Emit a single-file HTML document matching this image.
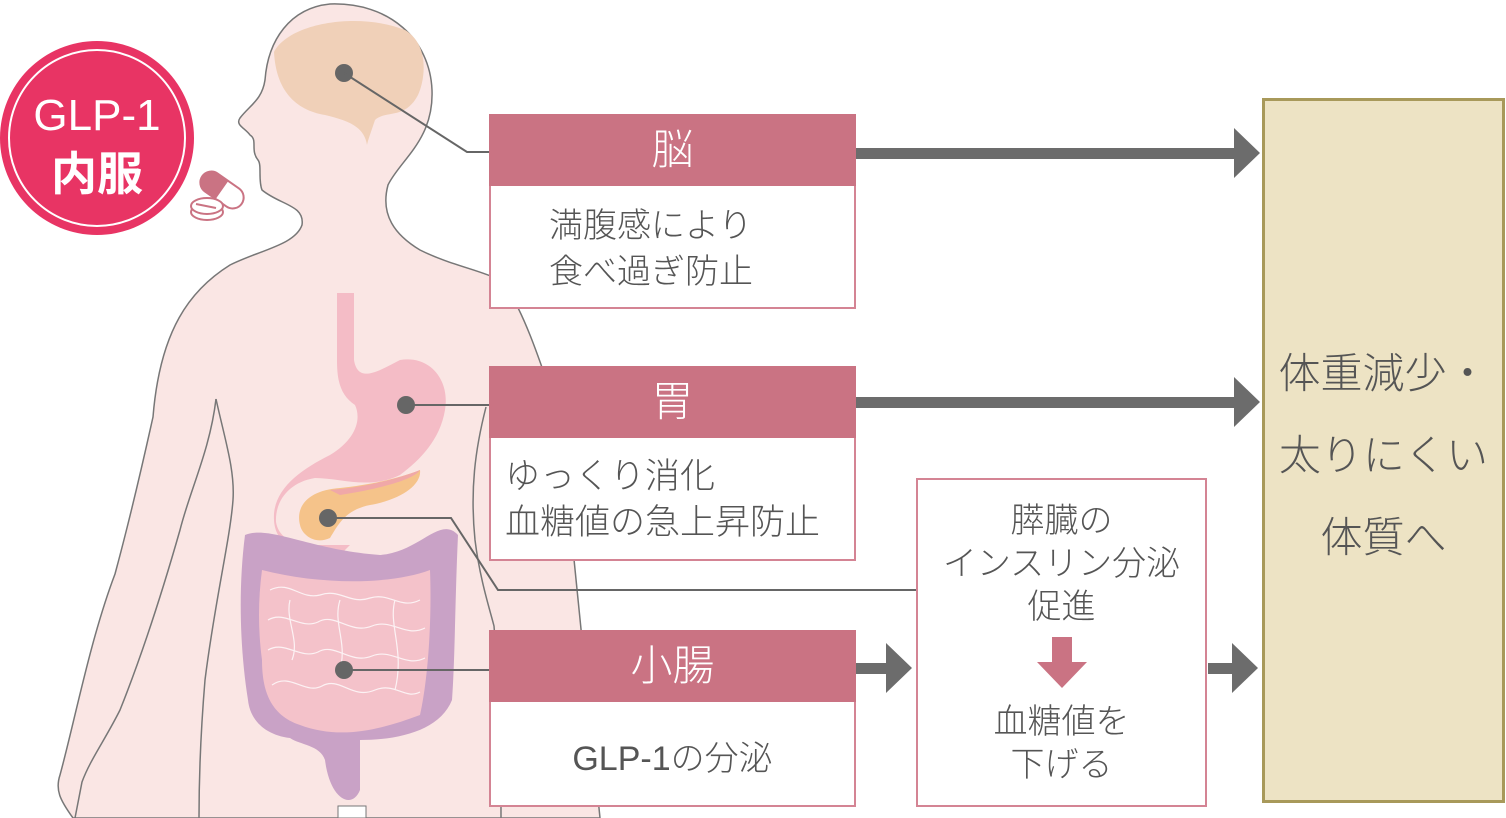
<!DOCTYPE html>
<html><head><meta charset="utf-8"><style>
body{margin:0;width:1506px;height:818px;background:#fff;overflow:hidden;position:relative;font-family:"Liberation Sans","Noto Sans CJK JP",sans-serif;}
.a{position:absolute;box-sizing:border-box}
.hd{background:#ca7383;color:#fff;font-size:42px;text-align:center;font-weight:300}
.bx{border:2px solid #d48494;border-top:none;background:#fff;color:#555;font-size:34px;line-height:46px;font-weight:300;white-space:nowrap}
.ar{background:#6c6c6c;height:11px}
.tri{width:0;height:0;border-top:25px solid transparent;border-bottom:25px solid transparent;border-left:26px solid #6c6c6c}
</style></head><body>
<svg class="a" style="left:0;top:0" width="1506" height="818">
<path d="M330,4 C390,2 430,40 432,90 C434,140 400,160 388,185 C380,215 395,235 420,250 C450,265 480,270 500,280 C520,300 540,360 560,420 L600,818 L73,818 C60,800 55,790 60,775 C75,720 90,640 115,574 C135,500 150,430 153,417 C160,330 190,290 230,265 C260,250 295,245 302,225 C305,205 280,205 262,190 C258,180 262,165 258,160 C250,150 258,140 250,135 C245,128 235,125 240,118 C250,105 262,100 265,80 C268,40 290,8 330,4 Z" fill="#fae6e4" stroke="#777" stroke-width="1.5"/>
<path d="M216,399 C225,440 235,470 233,500 C230,540 215,600 205,680 C200,740 199,780 199,818" fill="none" stroke="#777" stroke-width="1.5"/>
<path d="M216,399 C210,450 190,490 180,530 C160,600 140,660 120,710 C105,740 90,760 82,782 L75,818" fill="none" stroke="#777" stroke-width="1.5"/>
<path d="M486,407 C475,450 470,490 475,540 C480,580 490,610 494,626 C500,700 501,760 501,818" fill="none" stroke="#777" stroke-width="1.5"/>
<path d="M274,52 C290,22 360,12 405,30 C430,45 425,80 418,95 C405,120 385,110 375,120 C370,135 368,140 367,145 C364,125 345,120 325,115 C295,110 276,90 274,52 Z" fill="#f0d0b8"/>
<path d="M337,293 L354,293 L354,360 C358,385 380,370 400,360 C430,355 450,380 445,410 C440,440 420,460 400,475 C370,490 340,478 315,478 C290,482 275,500 276,522 C278,535 290,545 310,545 L350,545 L340,555 C300,560 275,545 274,520 C272,490 300,470 330,455 C355,440 362,420 355,405 C340,395 337,380 337,360 Z" fill="#f4bcc6"/>
<path d="M300,525 C295,505 310,490 340,488 C370,485 400,478 420,470 C422,485 400,500 370,505 C345,510 338,525 330,538 C315,545 302,535 300,525 Z" fill="#f5c38a"/>
<path d="M330,490 C360,488 395,480 420,470 C415,478 390,487 340,495 Z" fill="#f0a8a8"/>
<path d="M245,535 C270,525 310,550 380,555 C420,552 440,515 458,535 C455,600 455,660 452,700 C440,730 400,740 360,740 L360,790 C352,810 330,800 325,760 C320,745 300,745 290,738 C265,735 250,720 248,700 C240,650 238,590 245,535 Z" fill="#c9a2c6"/>
<path d="M262,570 C320,585 390,585 430,570 C432,620 428,680 420,715 C380,730 340,740 300,725 C270,715 262,690 262,660 C258,630 258,600 262,570 Z" fill="#f4c2ca"/>
<g fill="none" stroke="#fff" stroke-width="1.2" opacity="0.8">
<path d="M270,590 C290,580 300,600 320,595 C340,588 350,605 370,598 C390,592 400,610 420,600"/>
<path d="M268,620 C285,610 300,630 318,622 C335,612 350,635 372,626 C392,618 405,638 425,628"/>
<path d="M268,650 C285,640 300,660 318,652 C335,642 350,665 372,656 C392,648 405,668 425,658"/>
<path d="M272,685 C290,672 305,695 322,686 C340,676 352,700 375,690 C395,682 405,700 420,692"/>
<path d="M290,600 C285,620 300,640 292,660 M340,600 C332,625 350,645 338,675 M395,600 C388,625 405,650 395,690"/>
</g>
<circle cx="344" cy="73" r="9" fill="#666"/>
<circle cx="406" cy="405" r="9" fill="#666"/>
<circle cx="328" cy="518" r="9" fill="#666"/>
<circle cx="344" cy="670" r="9" fill="#666"/>
<g fill="none" stroke="#666" stroke-width="2">
<path d="M344,73 L467,152 L490,152"/>
<path d="M406,405 L490,405"/>
<path d="M328,518 L451,518 L498,590 L916,590"/>
<path d="M344,670 L490,670"/>
</g>
<circle cx="97" cy="138" r="97" fill="#e83464"/>
<circle cx="97" cy="138" r="88" fill="none" stroke="#fff" stroke-width="2"/>
<text x="97" y="130" font-size="44" fill="#fff" text-anchor="middle" font-family="Liberation Sans,sans-serif">GLP-1</text>
<text x="97" y="190" font-size="46" fill="#fff" text-anchor="middle" font-weight="bold" font-family="Noto Sans CJK JP,sans-serif">内服</text>
<g transform="rotate(35 222 190)"><rect x="198" y="179" width="48" height="22" rx="11" fill="#fff" stroke="#ca7383" stroke-width="2"/><path d="M209,179 L222,179 L222,201 L209,201 A11,11 0 0 1 209,179Z" fill="#ca7383"/></g>
<ellipse cx="207" cy="212" rx="16" ry="8" fill="#fff" stroke="#ca7383" stroke-width="2"/>
<ellipse cx="207" cy="206" rx="16" ry="8" fill="#fff" stroke="#ca7383" stroke-width="2"/>
<line x1="196" y1="204" x2="216" y2="208" stroke="#ca7383" stroke-width="2"/>
<rect x="338" y="806" width="28" height="12" fill="#fff" stroke="#777"/>
</svg>
<div class="a hd" style="left:489px;top:114px;width:367px;height:72px;line-height:72px">脳</div>
<div class="a bx" style="left:489px;top:186px;width:367px;height:123px;padding:17px 0 0 58px">満腹感により<br>食べ過ぎ防止</div>
<div class="a hd" style="left:489px;top:366px;width:367px;height:72px;line-height:72px">胃</div>
<div class="a bx" style="left:489px;top:438px;width:367px;height:123px;padding:16px 0 0 14px;font-size:35px">ゆっくり消化<br>血糖値の急上昇防止</div>
<div class="a hd" style="left:489px;top:630px;width:367px;height:72px;line-height:72px">小腸</div>
<div class="a bx" style="left:489px;top:702px;width:367px;height:105px;text-align:center;padding-top:34px">GLP-1の分泌</div>
<div class="a" style="left:916px;top:478px;width:291px;height:329px;border:2px solid #d48494;background:#fff;color:#555;font-size:34px;line-height:43px;text-align:center;font-weight:300;padding-top:20px;white-space:nowrap">膵臓の<br>インスリン分泌<br>促進<div style="height:72px"></div>血糖値を<br>下げる</div>
<div class="a" style="left:1052px;top:637px;width:20px;height:26px;background:#ca7383"></div>
<div class="a" style="left:1037px;top:662px;width:0;height:0;border-left:25px solid transparent;border-right:25px solid transparent;border-top:26px solid #ca7383"></div>
<div class="a ar" style="left:856px;top:148px;width:384px"></div><div class="a tri" style="left:1234px;top:128px"></div>
<div class="a ar" style="left:856px;top:397px;width:384px"></div><div class="a tri" style="left:1234px;top:377px"></div>
<div class="a ar" style="left:856px;top:663px;width:34px"></div><div class="a tri" style="left:886px;top:643px"></div>
<div class="a ar" style="left:1208px;top:663px;width:30px"></div><div class="a tri" style="left:1232px;top:643px"></div>
<div class="a" style="left:1262px;top:98px;width:243px;height:705px;background:#ede3c4;border:3px solid #a8995a;color:#555;font-size:42px;line-height:82px;text-align:center;padding-top:232px;font-weight:300;white-space:nowrap">体重減少・<br>太りにくい<br>体質へ</div>
</body></html>
